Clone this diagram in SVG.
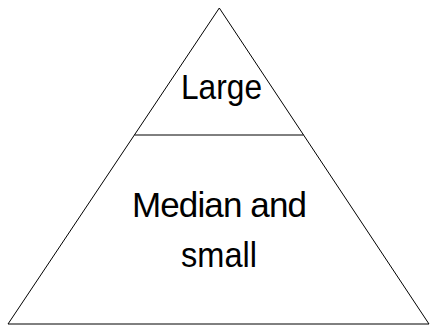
<svg xmlns="http://www.w3.org/2000/svg" width="430" height="326" viewBox="0 0 430 326">
<style>
.ln{fill:none;stroke:#000;stroke-width:1}
.t{font-family:"Liberation Sans","DejaVu Sans",sans-serif;font-size:35px;fill:#000;text-anchor:middle}
</style>
<rect width="430" height="326" fill="#fff"/>
<g id="pyramid">
<polygon class="ln" points="219.3,8 429,324 8,324"/>
</g>
<g id="connectors">
<line class="ln" x1="134.5" y1="135" x2="303.5" y2="135"/>
</g>
<g id="large">
<text class="t" x="221.5" y="99.3" textLength="81" lengthAdjust="spacingAndGlyphs">Large</text>
</g>
<g id="median">
<text class="t" x="219.5" y="217.3" textLength="175" lengthAdjust="spacing">Median and</text>
<text class="t" x="219" y="266.7" textLength="76" lengthAdjust="spacingAndGlyphs">small</text>
</g>
</svg>
